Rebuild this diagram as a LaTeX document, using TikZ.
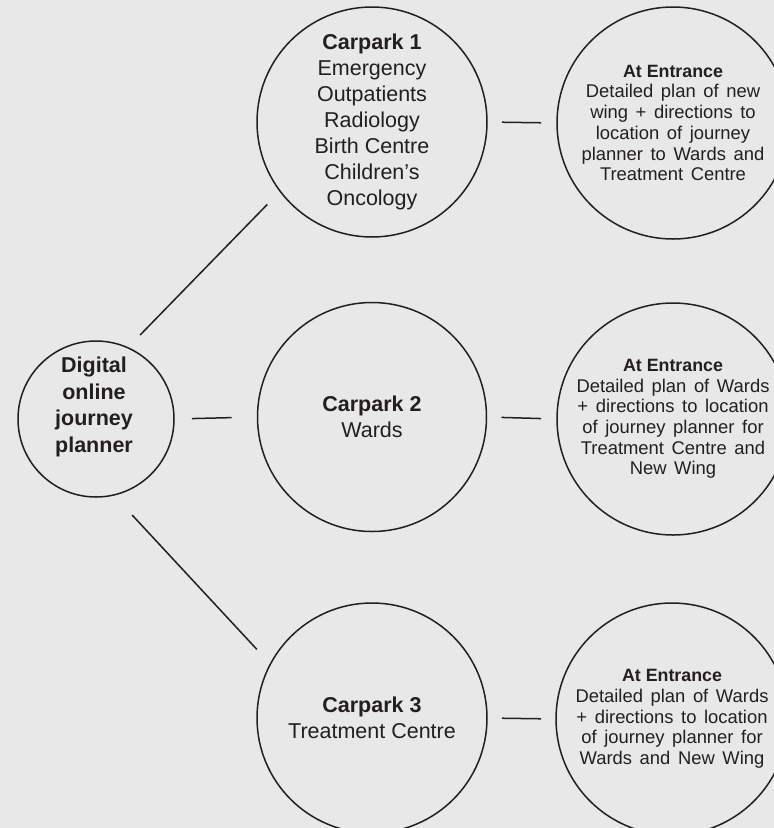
\documentclass[tikz,border=0pt]{standalone}
\usepackage{fontspec}
\setmainfont{Liberation Sans}
\definecolor{bg}{HTML}{E8E8E8}
\definecolor{ink}{HTML}{231F20}
\newcommand{\entsp}{\spaceskip=7.6pt\relax}
\newcommand{\enthead}[1]{{\bfseries\fontsize{17.8}{20.7}\selectfont #1}}
\begin{document}
\begin{tikzpicture}[x=1pt,y=-1pt,
  bubble/.style={circle, draw=ink, line width=1.5pt, inner sep=0pt, outer sep=0pt, align=center, text=ink},
  link/.style={draw=ink, line width=1.5pt},
  carptext/.style={font=\fontsize{21.5}{26}\selectfont},
  enttext/.style={font=\fontsize{18.4}{20.7}\selectfont}]
\fill[bg] (0,0) rectangle (774,828);
\useasboundingbox (0,0) rectangle (774,828);

\node[bubble, minimum size=156pt] (dig) at (96,419) {};
\node[text=ink, align=center, inner sep=0pt, font=\bfseries\fontsize{21.5}{26.7}\selectfont] (digt) at (94,407) {Digital\\online\\journey\\planner};

\node[bubble, minimum size=230pt, carptext] (cp1) at (372,122) {\textbf{Carpark 1}\\Emergency\\Outpatients\\Radiology\\Birth Centre\\Children’s\\Oncology};
\node[bubble, minimum size=229pt, carptext] (cp2) at (372,417) {\textbf{Carpark 2}\\Wards};
\node[bubble, minimum size=230pt, carptext] (cp3) at (372,718) {\textbf{Carpark 3}\\Treatment Centre};

\node[bubble, minimum size=232pt, enttext] (ent1) at (673,123) {\enthead{At Entrance}\\\entsp Detailed plan of new\\\entsp wing + directions to\\\entsp location of journey\\\entsp planner to Wards and\\\entsp Treatment Centre};
\node[bubble, minimum size=232pt, enttext] (ent2) at (673,419) {\enthead{At Entrance}\\\entsp Detailed plan of Wards\\\entsp + directions to location\\\entsp of journey planner for\\\entsp Treatment Centre and\\\entsp New Wing};
\node[bubble, minimum size=232pt, enttext] (ent3) at (672,719) {\enthead{At Entrance}\\\entsp Detailed plan of Wards\\\entsp + directions to location\\\entsp of journey planner for\\\entsp Wards and New Wing};

\draw[link, shorten <=17.7pt, shorten >=18.4pt] (dig.66) -- (cp1.217);
\draw[link, shorten <=18pt, shorten >=26pt] (dig.east) -- (cp2.west);
\draw[link, shorten <=27.3pt, shorten >=20pt] (dig.283) -- (cp3.152);
\draw[link, shorten <=15pt, shorten >=16pt] (cp1.east) -- (ent1.west);
\draw[link, shorten <=15pt, shorten >=16pt] (cp2.east) -- (ent2.west);
\draw[link, shorten <=15pt, shorten >=15pt] (cp3.east) -- (ent3.west);
\end{tikzpicture}
\end{document}
